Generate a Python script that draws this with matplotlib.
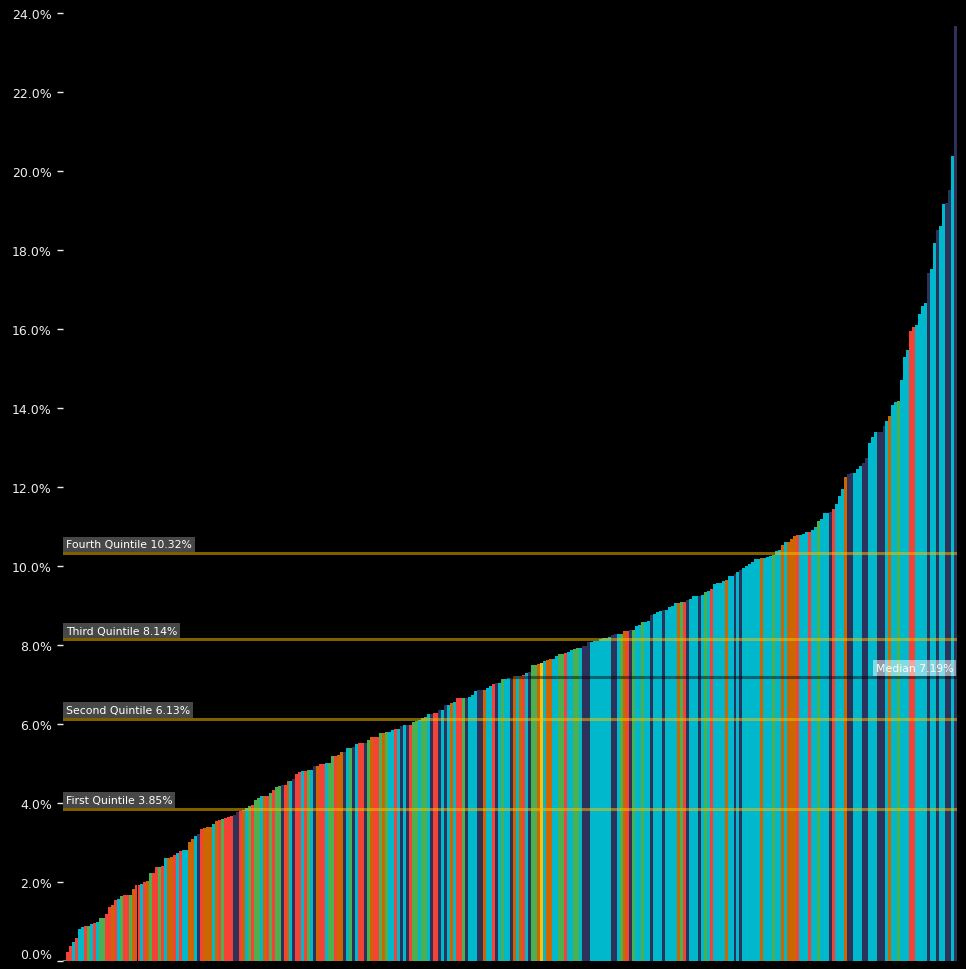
import matplotlib
matplotlib.use('Agg')
import numpy as np
import matplotlib.pyplot as plt
from matplotlib.ticker import FuncFormatter

# sorted returns (%) and the group of every bar
returns = [
    0.03, 0.23, 0.38, 0.48, 0.58, 0.81, 0.86, 0.89, 0.89, 0.94, 0.96, 0.99, 1.09, 1.09,
    1.19, 1.37, 1.42, 1.54, 1.57, 1.65, 1.67, 1.67, 1.67, 1.82, 1.92, 1.92, 1.95, 2.00,
    2.03, 2.23, 2.23, 2.38, 2.38, 2.41, 2.61, 2.61, 2.63, 2.68, 2.73, 2.78, 2.81, 2.81,
    3.01, 3.09, 3.16, 3.21, 3.34, 3.37, 3.39, 3.39, 3.47, 3.54, 3.56, 3.60, 3.62, 3.64,
    3.67, 3.70, 3.77, 3.80, 3.82, 3.87, 3.92, 3.95, 4.08, 4.13, 4.18, 4.18, 4.18, 4.25,
    4.33, 4.41, 4.43, 4.46, 4.46, 4.56, 4.56, 4.61, 4.73, 4.78, 4.81, 4.81, 4.84, 4.84,
    4.94, 4.94, 4.99, 4.99, 5.01, 5.01, 5.19, 5.19, 5.22, 5.29, 5.29, 5.39, 5.39, 5.42,
    5.49, 5.52, 5.52, 5.52, 5.59, 5.67, 5.67, 5.67, 5.77, 5.77, 5.80, 5.80, 5.85, 5.87,
    5.87, 5.95, 5.97, 5.97,
    5.97, 6.05, 6.08, 6.10, 6.15, 6.18, 6.25, 6.25, 6.28, 6.28, 6.35, 6.35, 6.48, 6.48,
    6.53, 6.56, 6.66, 6.66, 6.66, 6.66, 6.68, 6.73, 6.84, 6.86, 6.86, 6.86, 6.91, 6.96,
    7.01, 7.04, 7.04, 7.14, 7.14, 7.16, 7.16, 7.22, 7.22, 7.22, 7.24, 7.29, 7.32, 7.49,
    7.49, 7.52, 7.54, 7.59, 7.62, 7.65, 7.65, 7.72, 7.77, 7.77, 7.80, 7.82, 7.87, 7.90,
    7.92, 7.92, 7.97, 7.97, 8.08, 8.08, 8.10, 8.10,
    8.15, 8.18, 8.18, 8.20, 8.25, 8.28, 8.28, 8.28, 8.35, 8.35, 8.38, 8.38, 8.48, 8.51,
    8.58, 8.58, 8.61, 8.76, 8.78, 8.84, 8.86, 8.89, 8.89, 8.96, 8.99, 9.06, 9.06, 9.09,
    9.09, 9.14, 9.16, 9.24, 9.24, 9.24, 9.27, 9.34, 9.37, 9.42, 9.54, 9.57, 9.57, 9.62,
    9.65, 9.75, 9.75, 9.80, 9.85, 9.90, 9.95, 10.00, 10.05, 10.10, 10.18, 10.18, 10.20,
    10.20, 10.23, 10.25, 10.28, 10.38, 10.41, 10.53, 10.61, 10.61,
    10.68, 10.76, 10.78, 10.78, 10.81, 10.86, 10.86, 10.91, 10.99, 11.14, 11.19, 11.34,
    11.34, 11.37, 11.44, 11.57, 11.77, 11.95, 12.25, 12.33, 12.35, 12.35, 12.46, 12.53,
    12.61, 12.73, 13.11, 13.27, 13.39, 13.39, 13.39, 13.54, 13.67, 13.80, 14.08, 14.15,
    14.18, 14.71, 15.29, 15.47, 15.95, 16.05, 16.10, 16.38, 16.58, 16.66, 17.42, 17.52,
    18.18, 18.51, 18.61, 19.16, 19.19, 19.52, 20.38, 23.67,
]
groups = (
    "GRRCRCCRGCRCGGRROR" "CGRRGORRCROGRRGRCOORCRCCOOCNROOOCORGRR"
    "RNNROCGRGGCORGRGGNROCNRRCRGCNORRCGGROONCGNCRRNGORRGOGCCRCNCN"
    "RGGCGGCNRRNCNCOCRRGNCCCNNOCCRNCGCCNOCORCNGGOYCOOCCGGRCCGGCNNNCCC"
    "CCCCNNCGORNGCCGCCNCCCNCCCCOGRNCCCNCGCRCCCCOCCNCNCCCCCCOCCCGCCOCO"
    "OORCCCRCCGCCCNRCCCONNCCCNNCCCNNNCOCCGCCCRRCCCCNCCNCCNNCN"
)
palette = {'R': '#f44336', 'O': '#cc6600', 'G': '#4caf50',
           'C': '#00b8cc', 'N': '#2d325a', 'Y': '#ffc107'}

y_ticks = np.arange(0, 25, 2)
quintile_names = ['First Quintile', 'Second Quintile', 'Third Quintile', 'Fourth Quintile']
quintile_values = [3.85, 6.13, 8.14, 10.32]
median_value = 7.19

fig = plt.figure(figsize=(9.66, 9.70), dpi=100, facecolor='black')
ax = fig.add_axes([63 / 966, 8 / 970, (957 - 63) / 966, 962 / 970])
ax.set_facecolor('black')

x = np.arange(len(returns))
ax.bar(x, returns, width=1.0, color=[palette[g] for g in groups], linewidth=0)
ax.set_xlim(-0.5, len(returns) - 0.5)
ax.set_ylim(0, 24.35)

ax.set_yticks(y_ticks)
ax.yaxis.set_major_formatter(FuncFormatter(lambda v, p: f'{v:.1f}%'))
ax.tick_params(axis='y', colors='#eeeeee', labelsize=9, length=4, width=1, pad=4)
ax.set_xticks([])
for s in ax.spines.values():
    s.set_visible(False)

# quintile lines with labels on the left
for name, q in zip(quintile_names, quintile_values):
    ax.axhline(q, color='#ffc000', alpha=0.5, lw=2.2, zorder=3)
    ax.annotate(f'{name} {q:.2f}%', xy=(0, q), xycoords=('axes fraction', 'data'),
                xytext=(2.2, 2.8), textcoords='offset points', ha='left', va='bottom',
                fontsize=7.8, color='white', zorder=4,
                bbox=dict(boxstyle='square,pad=0.25', fc='#474747', ec='none'))

# median line with label on the right
ax.axhline(median_value, color='black', alpha=0.45, lw=2.2, zorder=3)
ax.annotate(f'Median {median_value:.2f}%', xy=(1, median_value),
            xycoords=('axes fraction', 'data'), xytext=(-2.5, 2.8),
            textcoords='offset points', ha='right', va='bottom', fontsize=7.8,
            color='white', zorder=4,
            bbox=dict(boxstyle='square,pad=0.25', fc='white', ec='none', alpha=0.5))

# lowest label sits above its tick, as in the original
ax.yaxis.get_major_ticks()[0].label1.set_verticalalignment('bottom')

fig.savefig('out.png', dpi=100, facecolor='black')
